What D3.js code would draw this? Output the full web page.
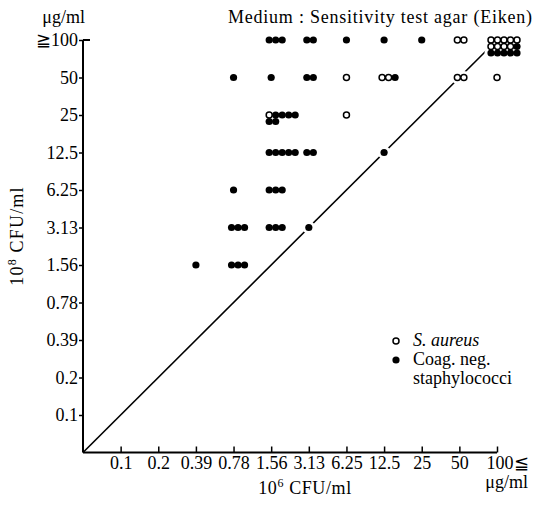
<!DOCTYPE html>
<html><head><meta charset="utf-8">
<script src="https://cdn.jsdelivr.net/npm/d3@7"></script>
<style>
body{margin:0;background:#fff;}
svg text{font-family:"Liberation Serif","DejaVu Serif","Noto Serif",serif !important;fill:#000;}
</style></head>
<body><svg id="c" width="538" height="507"></svg>
<script>
// Concentration levels (µg/ml)
const levels = ["0.1","0.2","0.39","0.78","1.56","3.13","6.25","12.5","25","50","100"];
const xTickLabels = ["0.1","0.2","0.39","0.78","1.56","3.13","6.25","12.5","25","50","100≦"];
const yTickLabels = ["0.1","0.2","0.39","0.78","1.56","3.13","6.25","12.5","25","50","≧100"];

// Cells: MIC at 10^6 CFU/ml (x) vs MIC at 10^8 CFU/ml (y)
const cellX =   ["1.56","3.13","6.25","12.5","25","50","100",
                 "0.78","1.56","3.13","6.25","12.5","50","100",
                 "1.56","6.25",
                 "1.56","3.13","12.5",
                 "0.78","1.56",
                 "0.78","1.56","3.13",
                 "0.39","0.78"];
const cellY =   ["100","100","100","100","100","100","100",
                 "50","50","50","50","50","50","50",
                 "25","25",
                 "12.5","12.5","12.5",
                 "6.25","6.25",
                 "3.13","3.13","3.13",
                 "1.56","1.56"];
const sAureus = [0,0,0,0,0,2,9,
                 0,0,0,1,2,2,1,
                 1,1,
                 0,0,0,
                 0,0,
                 0,0,0,
                 0,0];
const coagNeg = [3,2,1,1,1,0,6,
                 1,1,2,0,1,0,0,
                 6,0,
                 5,2,1,
                 1,3,
                 3,3,1,
                 1,3];

const FONT = "'Liberation Serif','DejaVu Serif','Noto Serif',serif";
const FS = 18;
const svg = d3.select("#c");
const idx = l => levels.indexOf(l) + 1;
const x = d3.scaleLinear().domain([0, levels.length]).range([83, 497]);
const y = d3.scaleLinear().domain([0, levels.length]).range([452.5, 40]);

// Diagonal
svg.append("line")
  .attr("x1", x(0)).attr("y1", y(0)).attr("x2", x(levels.length)).attr("y2", y(levels.length))
  .attr("stroke", "#000").attr("stroke-width", 1.6);

// Points
const pts = [];
cellX.forEach((cx, i) => {
  const n = sAureus[i] + coagNeg[i];
  const kinds = d3.range(sAureus[i]).map(() => "sa").concat(d3.range(coagNeg[i]).map(() => "cns"));
  kinds.forEach((k, j) => {
    const col = j % 5, row = Math.floor(j / 5);
    pts.push({
      px: x(idx(cx)) + (n > 10 ? -6 : n > 1 ? -2 : 0) + col * 6.5,
      py: y(idx(cellY[i])) + row * 6.5,
      k
    });
  });
});
svg.append("g").selectAll("circle").data(pts).join("circle")
  .attr("cx", d => d.px).attr("cy", d => d.py).attr("r", 6.5).attr("fill", "#fff");
svg.append("g").selectAll("circle").data(pts).join("circle")
  .attr("cx", d => d.px).attr("cy", d => d.py)
  .attr("r", d => d.k === "sa" ? 3 : 3.6)
  .attr("fill", d => d.k === "sa" ? "#fff" : "#000")
  .attr("stroke", "#000").attr("stroke-width", d => d.k === "sa" ? 1.5 : 0);

// Axes
const tickVals = d3.range(1, levels.length + 1);
const yAxis = d3.axisLeft(y).tickValues(tickVals).tickSize(4).tickSizeOuter(0).tickPadding(1)
  .tickFormat(d => yTickLabels[d - 1]);
const gy = svg.append("g").attr("transform", `translate(${x(0)},0)`).call(yAxis);
gy.attr("font-family", FONT).attr("font-size", FS);
gy.select(".domain").attr("d", `M0,${y(0)}V${y(levels.length)}`).attr("stroke-width", 2);
gy.selectAll(".tick line").attr("stroke-width", 1.5);
// top tick points right
svg.append("line").attr("x1", x(0)).attr("x2", x(0) + 7)
  .attr("y1", y(levels.length)).attr("y2", y(levels.length)).attr("stroke", "#000").attr("stroke-width", 2);

const xAxis = d3.axisBottom(x).tickValues(tickVals).tickSize(-6).tickSizeOuter(0).tickPadding(4)
  .tickFormat(d => xTickLabels[d - 1]);
const gx = svg.append("g").attr("transform", `translate(0,${y(0)})`).call(xAxis);
gx.attr("font-family", FONT).attr("font-size", FS);
gx.select(".domain").attr("d", `M${x(0)},0H${x(levels.length)}`).attr("stroke-width", 2);
gx.selectAll(".tick line").attr("stroke-width", 1.5);
gx.selectAll(".tick").filter(d => d === levels.length).select("text")
  .attr("text-anchor", "start").attr("x", -11);

const T = (sel) => sel.attr("font-family", FONT).attr("font-size", FS);

// Axis titles
T(svg.append("text")).attr("x", 85).attr("y", 23).attr("text-anchor", "end").text("μg/ml");
T(svg.append("text")).attr("x", 528).attr("y", 488).attr("text-anchor", "end").text("μg/ml");
const xt = T(svg.append("text")).attr("x", 305).attr("y", 494).attr("text-anchor", "middle")
  .attr("letter-spacing", 0.6);
xt.append("tspan").text("10");
xt.append("tspan").attr("dy", -7).attr("font-size", 12).text("6");
xt.append("tspan").attr("dy", 7).text(" CFU/ml");
const yt = T(svg.append("text")).attr("transform", "translate(23,236) rotate(-90)")
  .attr("text-anchor", "middle").attr("letter-spacing", 1.2);
yt.append("tspan").text("10");
yt.append("tspan").attr("dy", -7).attr("font-size", 12).text("8");
yt.append("tspan").attr("dy", 7).text(" CFU/ml");

// Title
T(svg.append("text")).attr("x", 228).attr("y", 23)
  .attr("textLength", 304).attr("lengthAdjust", "spacing")
  .text("Medium : Sensitivity test agar (Eiken)");

// Legend
const legend = [
  {label: "S. aureus", k: "sa", italic: true},
  {label: "Coag. neg.", k: "cns"}
];
legend.forEach((l, i) => {
  const ly = 341 + i * 19;
  svg.append("circle").attr("cx", 396).attr("cy", ly)
    .attr("r", l.k === "sa" ? 3 : 3.6)
    .attr("fill", l.k === "sa" ? "#fff" : "#000")
    .attr("stroke", "#000").attr("stroke-width", l.k === "sa" ? 1.5 : 0);
  T(svg.append("text")).attr("x", 413).attr("y", ly + 5)
    .attr("font-style", l.italic ? "italic" : "normal").text(l.label);
});
T(svg.append("text")).attr("x", 413).attr("y", 384).text("staphylococci");
</script></body></html>
